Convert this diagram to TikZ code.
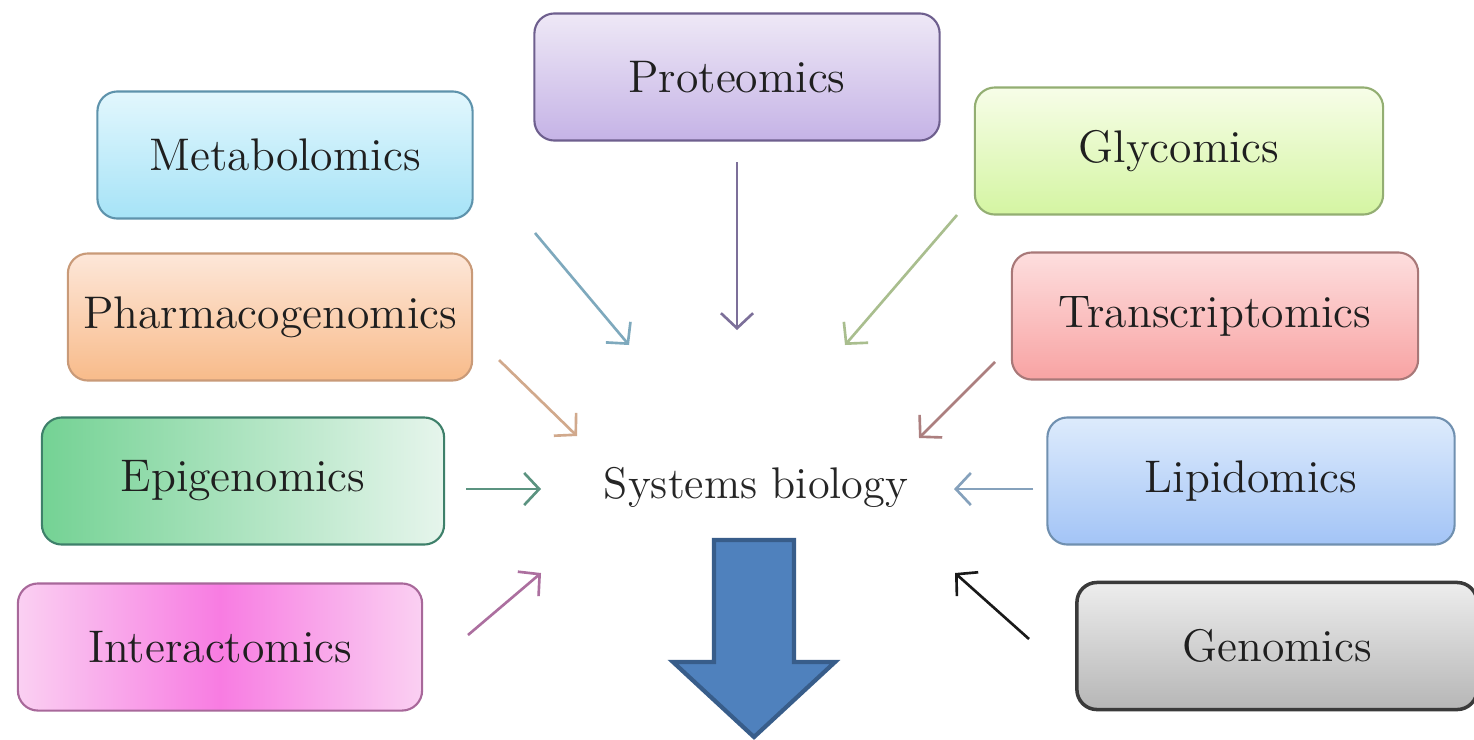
\documentclass[tikz,border=0pt]{standalone}
\usepackage{tikz}
\usetikzlibrary{arrows.meta}

\definecolor{metabline}{HTML}{5E93AC}
\definecolor{proteoline}{HTML}{6E5F8E}
\definecolor{glycoline}{HTML}{93AE72}
\definecolor{pharmaline}{HTML}{C99A78}
\definecolor{transline}{HTML}{A87878}
\definecolor{epiline}{HTML}{3E806A}
\definecolor{lipidline}{HTML}{7090B0}
\definecolor{interline}{HTML}{A8689A}
\definecolor{genoline}{HTML}{3A3A3A}
\definecolor{bigblue}{HTML}{4F81BD}
\definecolor{bigblueline}{HTML}{385D8A}
% fills
\definecolor{proteotop}{HTML}{EEE8F6}  \definecolor{proteobot}{HTML}{C5B3E6}
\definecolor{metabtop}{HTML}{E2F7FD}   \definecolor{metabbot}{HTML}{A6E3F7}
\definecolor{glycotop}{HTML}{F7FDE8}   \definecolor{glycobot}{HTML}{D4F5A2}
\definecolor{pharmatop}{HTML}{FDE7D9}  \definecolor{pharmabot}{HTML}{F8BB8A}
\definecolor{transtop}{HTML}{FDDEDE}   \definecolor{transbot}{HTML}{F8A3A3}
\definecolor{lipidtop}{HTML}{DDEBFC}   \definecolor{lipidbot}{HTML}{A3C4F6}
\definecolor{epileft}{HTML}{74D294}    \definecolor{epiright}{HTML}{E6F5EC}
\definecolor{interside}{HTML}{FAD0F2}  \definecolor{intermid}{HTML}{F87CE2}
\definecolor{genotop}{HTML}{EDEDED}    \definecolor{genobot}{HTML}{B6B6B6}

\tikzset{
  omicbox/.style={rounded corners=0.2cm, line width=0.6pt, minimum width=4.05cm,
    minimum height=1.27cm, inner sep=0pt, font=\fontsize{13}{15}\selectfont,
    text=black!88},
  feed/.style={line width=0.75pt, -{Straight Barb[length=1.5mm,width=3.2mm]}}
}

\begin{document}
\begin{tikzpicture}[x=0.01cm, y=-0.01cm]
\useasboundingbox (0,0) rectangle (1474,739);
\fill[white] (0,0) rectangle (1474,739);

% The omics boxes round the centre
\node[omicbox, draw=proteoline, top color=proteotop, bottom color=proteobot,
  minimum width=4.05cm] (proteo) at (737,77) {Proteomics};
\node[omicbox, draw=metabline, top color=metabtop, bottom color=metabbot,
  minimum width=3.75cm] (metab) at (285,155) {Metabolomics};
\node[omicbox, draw=glycoline, top color=glycotop, bottom color=glycobot,
  minimum width=4.08cm] (glyco) at (1179,151) {Glycomics};
\node[omicbox, draw=pharmaline, top color=pharmatop, bottom color=pharmabot,
  minimum width=4.04cm] (pharma) at (270,317) {Pharmacogenomics};
\node[omicbox, draw=transline, top color=transtop, bottom color=transbot,
  minimum width=4.06cm] (trans) at (1215,316) {Transcriptomics};
\node[omicbox, draw=epiline, left color=epileft, right color=epiright,
  minimum width=4.02cm] (epi) at (243,481) {Epigenomics};
\node[omicbox, draw=lipidline, top color=lipidtop, bottom color=lipidbot,
  minimum width=4.07cm] (lipid) at (1251,481) {Lipidomics};
\node[omicbox, draw=interline, left color=interside, right color=interside,
  middle color=intermid, minimum width=4.04cm] (inter) at (220,647) {Interactomics};
\node[omicbox, draw=genoline, line width=1pt, top color=genotop, bottom color=genobot,
  minimum width=4.0cm] (geno) at (1277,646) {Genomics};

% Centre text
\node[font=\fontsize{12.6}{15}\selectfont, text=black!85] (sysbio) at (756,487) {Systems biology};

% Ends of the small arrows
\coordinate (metab-s) at (535,233);   \coordinate (metab-e) at (629,345);
\coordinate (proteo-s) at (737,162);  \coordinate (proteo-e) at (737,330);
\coordinate (glyco-s) at (957,215);   \coordinate (glyco-e) at (845,345);
\coordinate (pharma-s) at (499,360);  \coordinate (pharma-e) at (577,436);
\coordinate (trans-s) at (995,362);   \coordinate (trans-e) at (919,438);
\coordinate (epi-s) at (466,489);     \coordinate (epi-e) at (541,489);
\coordinate (lipid-s) at (1033,489);  \coordinate (lipid-e) at (954,489);
\coordinate (inter-s) at (468,635);   \coordinate (inter-e) at (541,573);
\coordinate (geno-s) at (1029,639);   \coordinate (geno-e) at (955,573);

\draw[feed, metabline!80] (metab-s) -- (metab-e);
\draw[feed, proteoline!90] (proteo-s) -- (proteo-e);
\draw[feed, glycoline!80] (glyco-s) -- (glyco-e);
\draw[feed, pharmaline!85] (pharma-s) -- (pharma-e);
\draw[feed, transline!95] (trans-s) -- (trans-e);
\draw[feed, epiline!85] (epi-s) -- (epi-e);
\draw[feed, lipidline!85] (lipid-s) -- (lipid-e);
\draw[feed, interline!95] (inter-s) -- (inter-e);
\draw[feed, black!90] (geno-s) -- (geno-e);

% Big arrow down
\draw[fill=bigblue, draw=bigblueline, line width=1.2pt, line join=miter]
  (714,540) -- (794,540) -- (794,662) -- (835,662) -- (754,737)
  -- (673,662) -- (714,662) -- cycle;
\end{tikzpicture}
\end{document}
